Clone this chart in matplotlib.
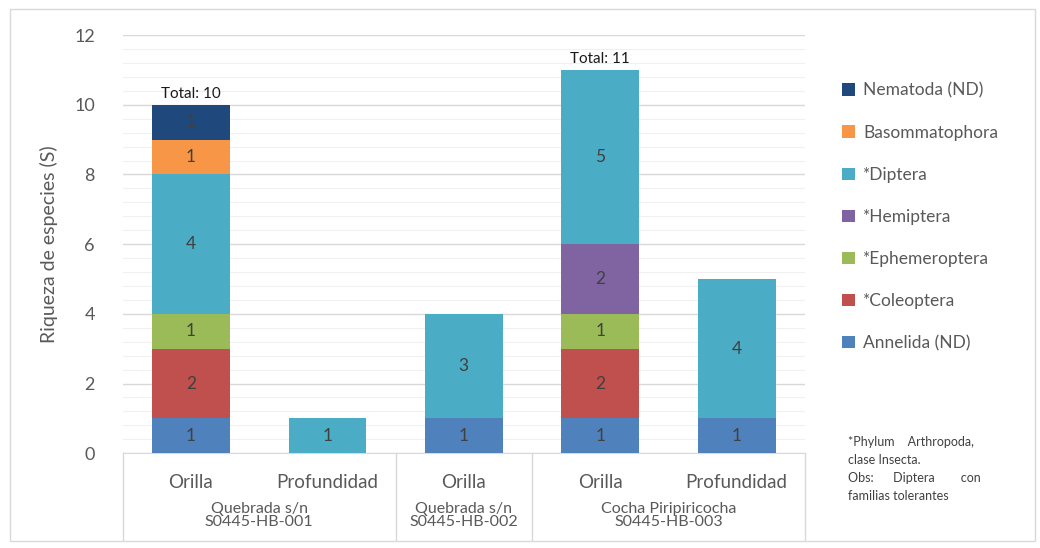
import numpy as np
import matplotlib
matplotlib.use("Agg")
import matplotlib.pyplot as plt
from matplotlib.patches import Rectangle

plt.rcParams['font.family'] = ['Lato', 'DejaVu Sans']

# Datos
categorias = ["Orilla", "Profundidad", "Orilla", "Orilla", "Profundidad"]
grupos = ["Quebrada s/n\nS0445-HB-001", "Quebrada s/n\nS0445-HB-002", "Cocha Piripiricocha\nS0445-HB-003"]
grupo_bars = [[0, 1], [2], [3, 4]]

taxones = ["Annelida (ND)", "*Coleoptera", "*Ephemeroptera", "*Hemiptera",
           "*Diptera", "Basommatophora", "Nematoda (ND)"]
annelida = [1, 0, 1, 1, 1]
coleoptera = [2, 0, 0, 2, 0]
ephemeroptera = [1, 0, 0, 1, 0]
hemiptera = [0, 0, 0, 2, 0]
diptera = [4, 1, 3, 5, 4]
basommatophora = [1, 0, 0, 0, 0]
nematoda = [1, 0, 0, 0, 0]
series = [annelida, coleoptera, ephemeroptera, hemiptera, diptera, basommatophora, nematoda]
colores = ["#4F81BD", "#C0504D", "#9BBB59", "#8064A2", "#4BACC6", "#F79646", "#1F497D"]
totales = {0: "Total: 10", 3: "Total: 11"}

fig = plt.figure(figsize=(10.4, 5.48), dpi=100)
ax = fig.add_axes([0.118, 0.173, 0.656, 0.763])

x = np.arange(len(categorias))
bottom = np.zeros(len(categorias))
handles = []
for vals, col, name in zip(series, colores, taxones):
    vals = np.array(vals, dtype=float)
    b = ax.bar(x, vals, 0.57, bottom=bottom, color=col, label=name, zorder=3)
    handles.append(b)
    for xi, v, bt in zip(x, vals, bottom):
        if v > 0:
            ax.text(xi, bt + v / 2, f"{int(v)}", ha='center', va='center',
                    fontsize=12.5, color='#404040', zorder=4)
    bottom += vals

for i, t in totales.items():
    ax.text(i, bottom[i] + 0.12, t, ha='center', va='bottom', fontsize=11, color='#1a1a1a')

ax.set_xlim(-0.5, 4.5)
ax.set_ylim(0, 12)
ax.set_yticks(np.arange(0, 13, 2))
ax.set_yticks(np.arange(0, 12.01, 0.4), minor=True)
ax.grid(axis='y', which='major', color='#d9d9d9', lw=1.0, zorder=0)
ax.grid(axis='y', which='minor', color='#f0f0f0', lw=0.8, zorder=0)
ax.tick_params(axis='y', which='both', length=0, labelsize=13, colors='#595959', pad=20)
ax.tick_params(axis='x', which='both', length=0, labelbottom=False)
for s in ['top', 'right', 'left']:
    ax.spines[s].set_visible(False)
ax.spines['bottom'].set_color('#d9d9d9')
ax.set_ylabel("Riqueza de especies (S)", fontsize=14, color='#595959', labelpad=12)

# eje de categorías con grupos
trans = ax.get_xaxis_transform()
for xs in [-0.5, 1.5, 2.5, 4.5]:
    ax.plot([xs, xs], [0, -0.208], color='#d9d9d9', lw=1.0, transform=trans, clip_on=False)
for xi, c in zip(x, categorias):
    ax.text(xi, -0.07, c, transform=trans, ha='center', va='center', fontsize=13.5, color='#595959')
for g, idx in zip(grupos, grupo_bars):
    gx = np.mean(idx)
    ax.text(gx, -0.148, g, transform=trans, ha='center', va='center', fontsize=11.5,
            color='#595959', linespacing=0.9)

leg = fig.legend(handles[::-1], taxones[::-1], loc='upper left', bbox_to_anchor=(0.795, 0.878),
                 frameon=False, fontsize=12.5, labelspacing=1.5, handlelength=0.7,
                 handleheight=0.7, handletextpad=0.5, labelcolor='#595959')

fig.text(0.815, 0.205, "*Phylum    Arthropoda,\nclase Insecta.\nObs:      Diptera        con\nfamilias tolerantes",
         fontsize=9, color='#404040', va='top', ha='left', linespacing=1.6)

# borde exterior
fig.patches.append(Rectangle((0.01, 0.012), 0.985, 0.972, transform=fig.transFigure,
                             fill=False, edgecolor='#d9d9d9', lw=1.0))

fig.savefig("out.png", dpi=100)
